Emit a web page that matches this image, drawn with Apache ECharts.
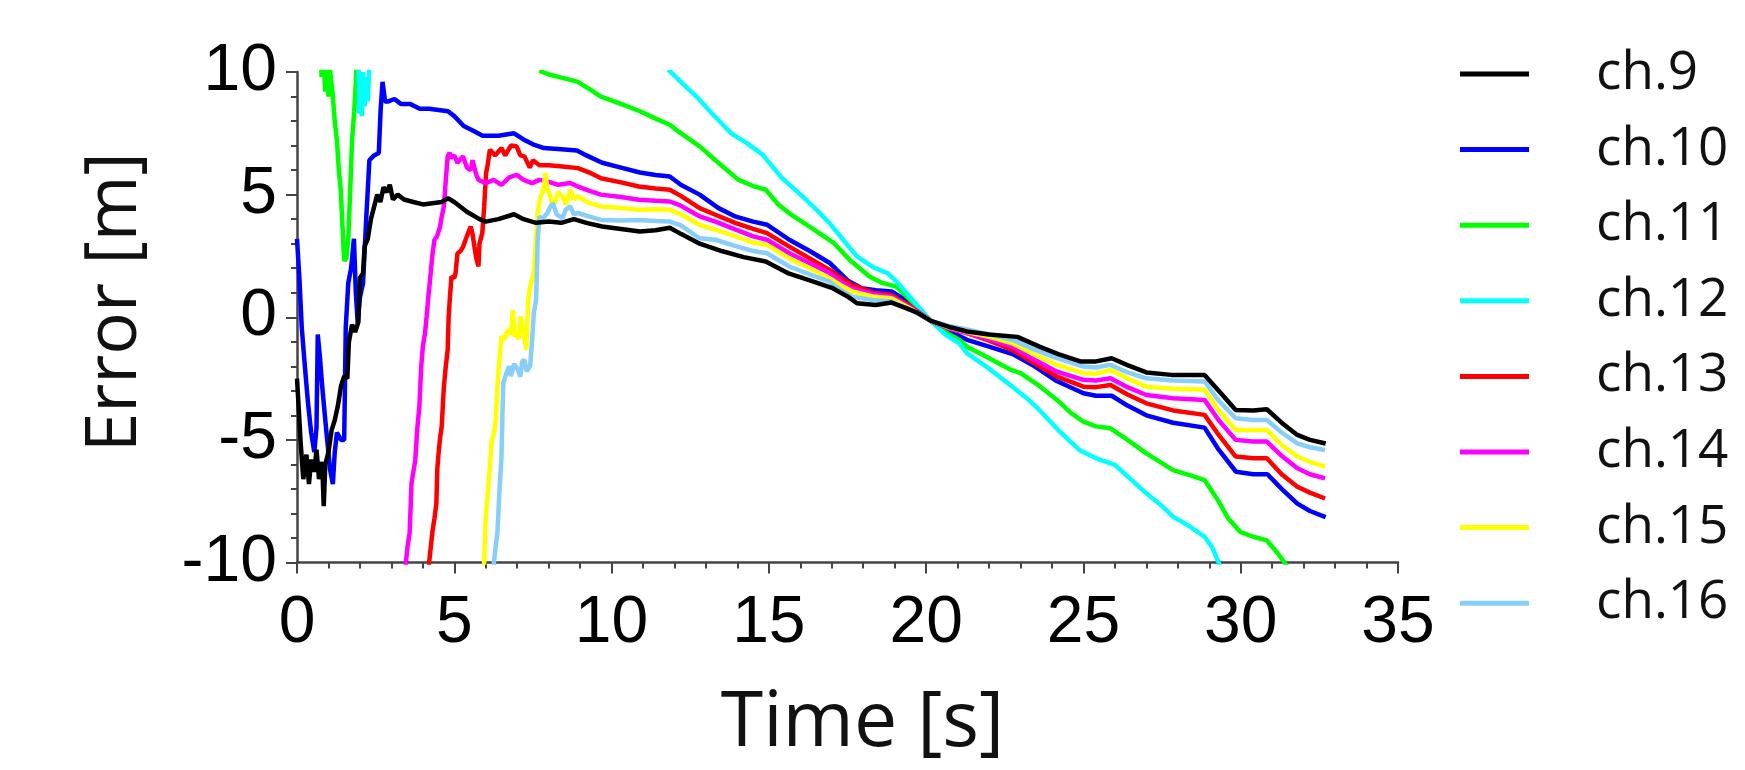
<!DOCTYPE html>
<html>
<head>
<meta charset="utf-8">
<title>Error vs time per channel</title>
<script src="https://cdn.jsdelivr.net/npm/echarts@6/dist/echarts.min.js"></script>
<style>
  html, body { margin: 0; padding: 0; background: #fff; }
  #chart { width: 1745px; height: 770px; }
</style>
</head>
<body>
<div id="chart"></div>
<script>
// axis ticks
const timeTicks = [0, 5, 10, 15, 20, 25, 30, 35]
const errorTicks = [-10, -5, 0, 5, 10]

// channel names and colours
const channels = ['ch.9', 'ch.10', 'ch.11', 'ch.12', 'ch.13', 'ch.14', 'ch.15', 'ch.16']
const colors = ['#000000', '#0000ff', '#00ff00', '#00ffff', '#ff0000', '#ff00ff', '#ffff00', '#87cefa']

// [time s, error m], values outside ±10 are clipped by the axis
const ch9 = [[0,-2.5],[0.05,-3.6],[0.12,-5.2],[0.2,-6.6],[0.3,-5.6],[0.38,-6.8],[0.45,-5.8],[0.55,-6.3],[0.62,-5.4],[0.7,-6.6],[0.8,-5.9],[0.85,-7.7],[0.9,-6.0],[1.0,-5.5],[1.1,-4.6],[1.2,-4.2],[1.3,-3.6],[1.4,-2.8],[1.5,-2.4],[1.6,-2.5],[1.65,-1.0],[1.75,-0.3],[1.85,-0.6],[1.95,-0.2],[2.0,1.6],[2.1,1.8],[2.15,2.9],[2.25,3.2],[2.35,4.0],[2.45,4.5],[2.55,5.0],[2.65,4.7],[2.75,5.3],[2.85,5.1],[2.95,5.4],[3.05,4.8],[3.2,5.0],[3.4,4.8],[3.7,4.7],[4.0,4.6],[4.3,4.65],[4.6,4.7],[4.8,4.85],[5.0,4.7],[5.4,4.3],[5.8,4.0],[6.0,3.9],[6.4,4.0],[6.9,4.2],[7.2,4.0],[7.6,3.85],[8.0,3.9],[8.4,3.85],[8.8,4.0],[9.2,3.85],[9.7,3.7],[10.3,3.6],[10.9,3.5],[11.4,3.55],[11.85,3.65],[12.2,3.4],[12.8,3.0],[13.5,2.7],[14.2,2.45],[14.9,2.27],[15.6,1.8],[16.3,1.5],[17.0,1.2],[17.5,0.85],[17.8,0.57],[18.4,0.5],[18.9,0.6],[19.3,0.4],[19.7,0.2],[20.15,-0.15],[20.8,-0.42],[21.3,-0.58],[22.0,-0.7],[22.9,-0.8],[23.6,-1.2],[24.2,-1.5],[24.9,-1.8],[25.4,-1.8],[25.9,-1.67],[26.4,-1.95],[27.0,-2.25],[27.8,-2.35],[28.85,-2.35],[29.3,-3.0],[29.84,-3.78],[30.4,-3.8],[30.83,-3.75],[31.3,-4.3],[31.8,-4.8],[32.2,-5.0],[32.7,-5.15]]
const ch10 = [[0,3.2],[0.08,1.5],[0.15,-0.4],[0.25,-2.0],[0.35,-3.5],[0.45,-4.7],[0.55,-5.5],[0.62,-4.5],[0.66,-0.7],[0.72,-1.5],[0.8,-2.8],[0.9,-4.2],[0.96,-5.0],[1.05,-6.2],[1.14,-6.8],[1.2,-5.5],[1.27,-4.7],[1.4,-5.0],[1.5,-5.0],[1.55,-0.4],[1.63,1.4],[1.72,2.0],[1.81,3.2],[1.87,1.0],[1.93,-0.25],[2.0,0.8],[2.1,1.4],[2.2,4.0],[2.3,6.4],[2.45,6.6],[2.6,6.7],[2.66,8.5],[2.72,9.6],[2.8,8.8],[2.9,8.8],[3.1,8.9],[3.3,8.7],[3.6,8.7],[3.9,8.5],[4.2,8.5],[4.5,8.45],[4.8,8.4],[5.0,8.2],[5.3,7.8],[5.6,7.6],[5.9,7.4],[6.4,7.4],[6.9,7.5],[7.2,7.25],[7.5,7.05],[7.85,6.9],[8.4,6.85],[8.9,6.8],[9.2,6.6],[9.7,6.3],[10.3,6.1],[10.9,5.9],[11.4,5.8],[11.85,5.74],[12.2,5.4],[12.8,5.0],[13.4,4.45],[13.95,4.1],[14.5,3.9],[14.95,3.77],[15.65,3.16],[16.3,2.7],[16.95,2.2],[17.5,1.5],[17.95,1.18],[18.4,1.1],[18.9,1.05],[19.5,0.57],[20.15,-0.15],[20.7,-0.55],[21.3,-0.92],[22.0,-1.2],[22.75,-1.5],[23.45,-2.0],[24.15,-2.6],[25.0,-3.1],[25.4,-3.2],[25.9,-3.2],[26.4,-3.6],[27.0,-4.0],[27.85,-4.3],[28.85,-4.5],[29.3,-5.4],[29.85,-6.3],[30.4,-6.4],[30.85,-6.4],[31.3,-7.0],[31.8,-7.6],[32.2,-7.9],[32.7,-8.15]]
const ch11 = [[0.76,11],[0.78,9.8],[0.85,10.3],[0.9,9.2],[0.95,10.2],[1.0,9.0],[1.05,10.1],[1.14,9.0],[1.2,8.0],[1.27,7.2],[1.33,6.0],[1.39,5.2],[1.45,3.6],[1.5,2.3],[1.57,2.4],[1.63,3.2],[1.7,5.5],[1.75,7.2],[1.82,8.4],[1.87,9.55],[1.92,11],[4.5,null],[7.7,10.05],[8.0,9.9],[8.44,9.76],[8.93,9.6],[9.3,9.3],[9.66,9.0],[10.3,8.7],[10.9,8.4],[11.4,8.1],[11.85,7.85],[12.1,7.6],[12.8,6.97],[13.3,6.4],[14.04,5.6],[14.5,5.35],[14.9,5.2],[15.3,4.6],[15.65,4.24],[16.4,3.6],[17.07,3.02],[17.6,2.3],[18.2,1.66],[18.6,1.4],[19.05,1.25],[19.5,0.7],[20.15,-0.15],[20.6,-0.6],[21.05,-0.92],[21.3,-1.2],[21.9,-1.6],[22.7,-2.15],[23.0,-2.28],[23.6,-2.8],[24.16,-3.37],[24.6,-3.9],[25.0,-4.26],[25.4,-4.45],[25.86,-4.53],[26.4,-5.0],[27.0,-5.55],[27.85,-6.23],[28.4,-6.45],[28.85,-6.64],[29.27,-7.45],[29.6,-8.2],[29.98,-8.75],[30.4,-8.95],[30.83,-9.1],[31.1,-9.5],[31.45,-10.1],[31.6,-11]]
const ch12 = [[1.95,11],[1.98,8.3],[2.02,9.5],[2.06,8.2],[2.1,10],[2.15,8.6],[2.2,9.8],[2.25,8.8],[2.3,10.2],[2.36,11],[7,null],[11.8,10.1],[12.2,9.6],[12.7,9.0],[13.2,8.3],[13.8,7.5],[14.3,7.1],[14.8,6.63],[15.4,5.7],[16.07,4.93],[16.5,4.4],[16.93,3.84],[17.4,3.1],[17.8,2.48],[18.3,2.05],[18.77,1.8],[19.1,1.4],[19.48,0.84],[20.15,-0.15],[20.6,-0.7],[21.05,-1.06],[21.3,-1.47],[21.9,-2.0],[22.74,-2.83],[23.2,-3.3],[23.6,-3.78],[24.2,-4.6],[24.87,-5.41],[25.4,-5.75],[26.0,-6.02],[26.5,-6.6],[27.0,-7.18],[27.5,-7.7],[27.85,-8.13],[28.4,-8.55],[28.85,-8.95],[29.1,-9.4],[29.33,-10.1],[29.45,-11]]
const ch13 = [[4.17,-11],[4.2,-10],[4.31,-8.7],[4.37,-8.2],[4.43,-7.6],[4.46,-6.2],[4.5,-5.55],[4.55,-4.9],[4.6,-4.46],[4.64,-3.5],[4.67,-2.83],[4.73,-2.0],[4.79,-1.33],[4.82,0.0],[4.85,0.6],[4.91,1.66],[5.0,1.6],[5.04,1.8],[5.1,2.6],[5.2,2.7],[5.28,2.88],[5.4,3.3],[5.52,3.7],[5.58,3.4],[5.64,2.88],[5.7,2.4],[5.77,2.07],[5.8,3.0],[5.89,3.43],[5.95,4.5],[6.01,5.88],[6.06,6.2],[6.13,6.83],[6.3,6.6],[6.5,6.9],[6.62,6.6],[6.8,7.0],[6.98,6.97],[7.1,6.6],[7.23,6.56],[7.4,6.1],[7.5,6.4],[7.71,6.2],[8.0,6.2],[8.44,6.15],[8.93,6.08],[9.3,5.9],[9.66,5.67],[10.3,5.5],[10.87,5.33],[11.4,5.25],[11.85,5.2],[12.2,4.95],[12.8,4.45],[13.3,4.18],[13.95,3.84],[14.5,3.6],[14.94,3.43],[15.65,2.88],[16.3,2.4],[16.93,1.93],[17.3,1.6],[17.65,1.32],[18.3,1.0],[18.9,0.91],[19.5,0.45],[20.15,-0.15],[20.7,-0.45],[21.3,-0.65],[22.0,-0.95],[22.74,-1.33],[23.4,-1.85],[24.16,-2.42],[25.0,-2.83],[25.4,-2.85],[25.86,-2.76],[26.4,-3.15],[27.0,-3.51],[27.85,-3.8],[28.85,-3.98],[29.3,-4.8],[29.84,-5.68],[30.4,-5.75],[30.83,-5.75],[31.3,-6.4],[31.8,-6.91],[32.2,-7.15],[32.68,-7.39]]
const ch14 = [[3.43,-11],[3.46,-10],[3.52,-9.3],[3.58,-8.8],[3.62,-7.5],[3.64,-6.77],[3.7,-6.3],[3.76,-5.82],[3.82,-4.6],[3.89,-3.64],[3.92,-2.8],[3.95,-2.01],[4.0,-1.2],[4.07,-0.65],[4.12,0.03],[4.18,0.9],[4.25,1.8],[4.3,2.5],[4.37,3.16],[4.45,3.3],[4.55,3.7],[4.6,4.1],[4.67,4.52],[4.73,5.6],[4.79,6.56],[4.85,6.7],[4.91,6.5],[5.0,6.6],[5.1,6.3],[5.28,6.56],[5.4,6.1],[5.52,6.0],[5.58,6.4],[5.64,6.43],[5.7,5.8],[5.77,5.6],[6.0,5.47],[6.25,5.6],[6.5,5.4],[6.75,5.7],[6.98,5.81],[7.2,5.6],[7.47,5.47],[7.7,5.6],[7.96,5.54],[8.3,5.4],[8.69,5.47],[8.93,5.33],[9.3,5.15],[9.66,5.0],[10.3,4.9],[10.87,4.79],[11.4,4.75],[11.85,4.72],[12.2,4.55],[12.8,4.11],[13.3,3.9],[13.95,3.57],[14.5,3.3],[14.94,3.16],[15.65,2.61],[16.3,2.2],[16.93,1.8],[17.3,1.45],[17.65,1.18],[18.3,0.95],[18.9,0.84],[19.5,0.4],[20.15,-0.15],[20.7,-0.45],[21.3,-0.65],[22.0,-0.9],[22.74,-1.2],[23.4,-1.7],[24.16,-2.22],[25.0,-2.55],[25.4,-2.58],[25.86,-2.49],[26.4,-2.85],[27.0,-3.17],[27.85,-3.3],[28.85,-3.37],[29.3,-4.2],[29.84,-5.0],[30.4,-5.07],[30.83,-5.07],[31.3,-5.65],[31.8,-6.16],[32.2,-6.4],[32.68,-6.57]]
const ch15 = [[5.93,-11],[5.95,-10],[6.0,-8.13],[6.05,-7.4],[6.13,-6.09],[6.19,-5.0],[6.25,-4.8],[6.31,-4.32],[6.37,-2.83],[6.43,-1.8],[6.5,-0.78],[6.6,-0.9],[6.7,-0.5],[6.8,-0.7],[6.86,0.3],[6.92,-0.8],[6.98,-0.6],[7.05,-0.9],[7.1,0.03],[7.2,-0.6],[7.29,-1.33],[7.35,0.7],[7.41,1.25],[7.53,1.8],[7.6,3.3],[7.65,4.25],[7.72,4.8],[7.83,5.2],[7.9,5.88],[7.96,5.2],[8.02,5.06],[8.1,4.7],[8.2,4.65],[8.3,5.1],[8.44,4.93],[8.55,4.6],[8.69,5.2],[8.8,4.8],[8.93,4.93],[9.3,4.65],[9.66,4.52],[10.3,4.45],[10.87,4.38],[11.4,4.4],[11.85,4.38],[12.2,4.2],[12.8,3.77],[13.3,3.57],[13.95,3.3],[14.5,3.05],[14.94,2.95],[15.65,2.4],[16.3,2.0],[16.93,1.59],[17.3,1.3],[17.65,1.05],[18.3,0.85],[18.9,0.78],[19.5,0.35],[20.15,-0.15],[20.7,-0.4],[21.3,-0.6],[22.0,-0.8],[22.74,-1.06],[23.4,-1.5],[24.16,-1.94],[25.0,-2.28],[25.4,-2.3],[25.86,-2.15],[26.4,-2.5],[27.0,-2.83],[27.85,-2.92],[28.85,-2.96],[29.3,-3.8],[29.84,-4.6],[30.4,-4.6],[30.83,-4.6],[31.3,-5.2],[31.8,-5.68],[32.2,-5.9],[32.68,-6.09]]
const ch16 = [[6.24,-11],[6.26,-10],[6.32,-9.3],[6.37,-8.8],[6.43,-7.2],[6.5,-5.68],[6.53,-4.0],[6.56,-2.69],[6.65,-2.3],[6.74,-2.0],[6.8,-2.4],[6.9,-1.9],[7.0,-2.1],[7.1,-2.42],[7.16,-1.8],[7.23,-1.74],[7.3,-2.2],[7.41,-2.0],[7.47,-1.0],[7.53,0.2],[7.6,0.7],[7.63,2.0],[7.65,3.16],[7.71,4.11],[7.8,4.0],[7.96,4.25],[8.05,4.5],[8.14,4.65],[8.25,4.2],[8.44,4.04],[8.55,4.4],[8.69,4.52],[8.8,4.2],[8.93,4.25],[9.3,4.1],[9.66,3.97],[10.3,3.95],[10.87,3.97],[11.4,3.92],[11.85,3.9],[12.2,3.75],[12.8,3.22],[13.3,3.16],[13.95,2.9],[14.5,2.7],[14.94,2.61],[15.65,2.07],[16.3,1.75],[16.93,1.45],[17.3,1.1],[17.65,0.84],[18.3,0.7],[18.9,0.64],[19.5,0.3],[20.15,-0.15],[20.7,-0.35],[21.3,-0.5],[22.0,-0.7],[22.74,-0.92],[23.4,-1.3],[24.16,-1.67],[25.0,-2.01],[25.4,-2.05],[25.86,-1.94],[26.4,-2.25],[27.0,-2.49],[27.85,-2.58],[28.85,-2.62],[29.3,-3.4],[29.84,-4.12],[30.4,-4.19],[30.83,-4.19],[31.3,-4.7],[31.8,-5.14],[32.2,-5.3],[32.68,-5.41]]

const seriesData = [ch9, ch10, ch11, ch12, ch13, ch14, ch15, ch16]

const tickFont = '"Liberation Sans", Arial, sans-serif'
const textFont = '"Open Sans", "DejaVu Sans", sans-serif'

const chart = echarts.init(document.getElementById('chart'))

const option = {
  animation: false,
  backgroundColor: '#ffffff',
  grid: { left: 297, right: 347, top: 72, bottom: 207.5, containLabel: false },
  legend: {
    orient: 'vertical',
    left: 1455,
    top: 41,
    icon: 'rect',
    itemWidth: 69,
    itemHeight: 5,
    itemGap: 19.6,
    data: channels,
    textStyle: {
      fontFamily: textFont,
      fontSize: 53,
      lineHeight: 56,
      color: '#111',
      padding: [0, 0, 0, 62]
    }
  },
  xAxis: {
    type: 'value',
    min: timeTicks[0],
    max: timeTicks[timeTicks.length - 1],
    interval: 5,
    name: 'Time [s]',
    nameLocation: 'middle',
    nameGap: 123,
    nameTextStyle: { fontFamily: textFont, fontSize: 77, color: '#111', padding: [0, 0, 0, 30] },
    axisLine: { onZero: false, lineStyle: { color: '#444', width: 2.5 } },
    axisTick: { length: 11, lineStyle: { color: '#444', width: 2 } },
    minorTick: { show: true, splitNumber: 5, length: 6, lineStyle: { color: '#444', width: 2 } },
    splitLine: { show: false },
    axisLabel: { fontFamily: tickFont, fontSize: 66, color: '#000', margin: 28 }
  },
  yAxis: {
    type: 'value',
    min: errorTicks[0],
    max: errorTicks[errorTicks.length - 1],
    interval: 5,
    name: 'Error [m]',
    nameLocation: 'middle',
    nameGap: 146,
    nameTextStyle: { fontFamily: textFont, fontSize: 71, color: '#111', padding: [0, 0, 0, 30] },
    axisLine: { show: true, onZero: false, lineStyle: { color: '#444', width: 2.5 } },
    axisTick: { show: true, length: 11, lineStyle: { color: '#444', width: 2 } },
    minorTick: { show: true, splitNumber: 5, length: 6, lineStyle: { color: '#444', width: 2 } },
    splitLine: { show: false },
    axisLabel: { fontFamily: tickFont, fontSize: 66, color: '#000', margin: 20 }
  },
  series: channels.map((name, i) => ({
    name: name,
    type: 'line',
    data: seriesData[i],
    showSymbol: false,
    symbol: 'none',
    clip: true,
    connectNulls: false,
    color: colors[i],
    lineStyle: { color: colors[i], width: 4.5 },
    z: i === 0 ? 10 : 2
  }))
}

chart.setOption(option)
</script>
</body>
</html>
